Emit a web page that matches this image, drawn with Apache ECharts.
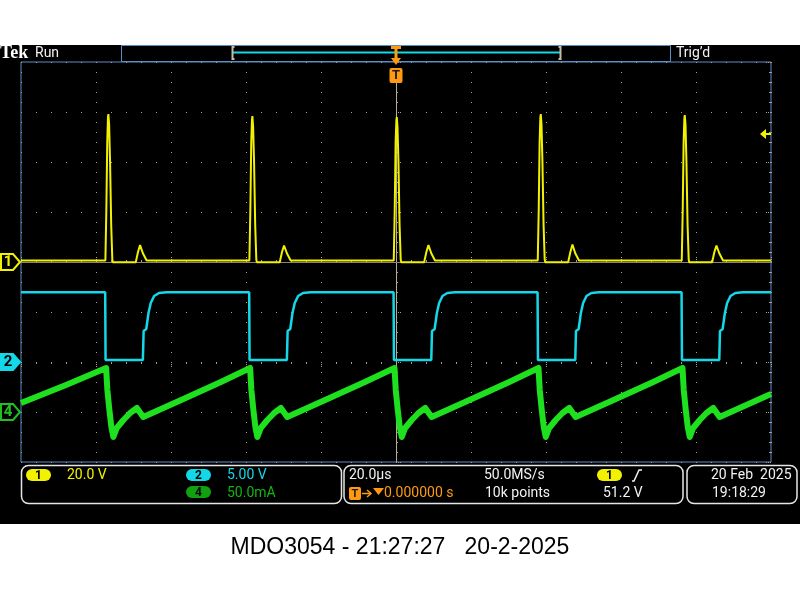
<!DOCTYPE html>
<html><head><meta charset="utf-8">
<script src="https://cdn.jsdelivr.net/npm/echarts@6/dist/echarts.min.js"></script>
<style>html,body{margin:0;padding:0;background:#fff}#c{width:800px;height:600px}</style>
</head><body><div id="c"></div>
<script>
// Time axis in µs (20 µs/div), channel values in their own units
const timeRange = [-100, 100];
// CH1 (V) 20.0 V/div
const ch1Data = [
 [-100,0.6],
 [-77.5,0.6],[-77.25,20],[-77.0,48],[-76.8,58],[-76.7,59.2],[-76.5,55],[-76.25,40],[-75.95,15],[-75.65,1],[-75.5,-0.1],[-69.4,-0.1],[-68.8,4],[-68.25,6.8],[-67.5,3.5],[-66.5,0.6],
 [-39.1,0.6],[-38.85,20],[-38.6,48],[-38.4,57],[-38.3,58.4],[-38.1,54],[-37.85,40],[-37.55,15],[-37.25,1],[-37.1,-0.1],[-31.0,-0.1],[-30.4,4],[-29.85,6.6],[-29.1,3.5],[-28.1,0.6],
 [-0.6,0.6],[-0.35,20],[-0.1,48],[0.1,56.5],[0.2,58.0],[0.4,54],[0.65,40],[0.95,15],[1.25,1],[1.4,-0.1],[7.5,-0.1],[8.1,4],[8.65,6.8],[9.4,3.5],[10.4,0.6],
 [37.8,0.6],[38.05,20],[38.3,48],[38.5,58],[38.6,59.2],[38.8,55],[39.05,40],[39.35,15],[39.65,1],[39.8,-0.1],[45.9,-0.1],[46.5,4],[47.05,7.0],[47.8,3.5],[48.8,0.6],
 [76.2,0.6],[76.45,20],[76.7,48],[76.9,57.5],[77.0,58.8],[77.2,55],[77.45,40],[77.75,15],[78.05,1],[78.2,-0.1],[84.3,-0.1],[84.9,4],[85.45,6.6],[86.2,3.5],[87.2,0.6],
 [100,0.6]
];
// CH2 (V) 5.00 V/div
const ch2Data = [
 [-100,6.97],
 [-77.55,6.97],[-77.45,0.2],[-67.5,0.2],[-67.3,3.1],[-66.6,3.3],[-66.0,4.9],[-65.4,5.9],[-64.5,6.6],[-63.2,6.9],[-61.2,6.97],
 [-39.15,6.97],[-39.05,0.2],[-29.1,0.2],[-28.9,3.1],[-28.2,3.3],[-27.6,4.9],[-27.0,5.9],[-26.1,6.6],[-24.8,6.9],[-22.8,6.97],
 [-0.65,6.97],[-0.55,0.2],[9.4,0.2],[9.6,3.1],[10.3,3.3],[10.9,4.9],[11.5,5.9],[12.4,6.6],[13.7,6.9],[15.7,6.97],
 [37.75,6.97],[37.85,0.2],[47.8,0.2],[48.0,3.1],[48.7,3.3],[49.3,4.9],[49.9,5.9],[50.8,6.6],[52.1,6.9],[54.1,6.97],
 [76.15,6.97],[76.25,0.2],[86.2,0.2],[86.4,3.1],[87.1,3.3],[87.7,4.9],[88.3,5.9],[89.2,6.6],[90.5,6.9],[92.5,6.97],
 [100,6.97]
];
// CH4 (mA) 50.0 mA/div
const ch4Data = [
 [-100,9],[-88,27],
 [-77.3,44],[-76.97,22],[-76.43,2],[-75.9,-15],[-75.37,-25],[-74.46,-16],[-72.7,-8],[-70.9,-1],[-69.1,4],[-67.4,-5],[-56.7,13],[-46.7,30],
 [-38.9,44],[-38.57,22],[-38.03,2],[-37.5,-15],[-36.97,-25],[-36.06,-16],[-34.3,-8],[-32.5,-1],[-30.7,4],[-29.0,-5],[-18.3,13],[-8.3,30],
 [-0.4,44],[-0.07,22],[0.47,2],[1.0,-15],[1.53,-25],[2.44,-16],[4.2,-8],[6.0,-1],[7.8,4],[9.5,-5],[20.2,13],[30.2,30],
 [38.0,44],[38.33,22],[38.87,2],[39.4,-15],[39.93,-25],[40.84,-16],[42.6,-8],[44.4,-1],[46.2,4],[47.9,-5],[58.6,13],[68.6,30],
 [76.4,44],[76.73,22],[77.27,2],[77.8,-15],[78.33,-25],[79.24,-16],[81.0,-8],[82.8,-1],[84.6,4],[86.3,-5],[97,13],[100,18]
];
const ch1Range = [-80, 80];   // ground at centre
const ch2Range = [-10, 30];   // ground at -2 div
const ch4Range = [-50, 350];  // ground at -3 div
const triggerLevel = 51.2;
const channelLabels = ['1', '2', '4'];
const infoTexts = {
  ch1Scale: '20.0 V', ch2Scale: '5.00 V', ch4Scale: '50.0mA',
  timebase: '20.0µs', sampleRate: '50.0MS/s', delay: '0.000000 s', record: '10k points',
  trigLevel: '51.2 V', date: '20 Feb  2025', time: '19:18:29',
  caption: 'MDO3054 - 21:27:27   20-2-2025'
};

const DOT = '#a8a08c', BLUE = '#5b8ec4';
const YEL = '#f2f200', CYA = '#14d8e8', GRN = '#1ee01e', ORG = '#ff9a10', WHITE = '#f2f2f2';
const FONT = 'Roboto';

const chart = echarts.init(document.getElementById('c'), null, {width: 800, height: 600});

function edgeX(pos, split) {
  return {type: 'value', min: timeRange[0], max: timeRange[1], interval: 20, position: pos,
    axisLine: {show: false}, axisLabel: {show: false},
    axisTick: {show: true, inside: true, length: 5, lineStyle: {color: DOT, type: [1, 1]}},
    minorTick: {show: true, splitNumber: 5, length: 2, lineStyle: {color: DOT}},
    splitLine: {show: split, lineStyle: {color: DOT, width: 1, type: [1, 9]}}};
}
const option = {
  animation: false,
  backgroundColor: '#000',
  grid: {left: 21, top: 62, width: 750, height: 400, show: true, borderColor: BLUE, borderWidth: 1},
  xAxis: [edgeX('bottom', true), edgeX('top', false)],
  yAxis: [
    {type: 'value', min: ch1Range[0], max: ch1Range[1], interval: 20, position: 'left',
     axisLine: {show: false}, axisLabel: {show: false},
     axisTick: {show: true, inside: true, length: 5, lineStyle: {color: DOT, type: [1, 1]}},
     minorTick: {show: true, splitNumber: 5, length: 2, lineStyle: {color: DOT}},
     splitLine: {show: true, lineStyle: {color: DOT, width: 1, type: [1, 14]}}},
    {type: 'value', min: ch2Range[0], max: ch2Range[1], show: false},
    {type: 'value', min: ch4Range[0], max: ch4Range[1], show: false},
    {type: 'value', min: -4, max: 4, interval: 1, position: 'right',
     axisLine: {show: false}, axisLabel: {show: false},
     axisTick: {show: true, inside: true, length: 5, lineStyle: {color: DOT, type: [1, 1]}},
     minorTick: {show: true, splitNumber: 5, length: 2, lineStyle: {color: DOT}},
     splitLine: {show: false}}
  ],
  series: [
    {type: 'line', name: 'CH4', data: ch4Data, yAxisIndex: 2, showSymbol: false, z: 3,
     lineStyle: {color: GRN, width: 6, join: 'round'}},
    {type: 'line', name: 'CH2', data: ch2Data, yAxisIndex: 1, showSymbol: false, z: 4,
     lineStyle: {color: CYA, width: 2.5}},
    {type: 'line', name: 'CH1', data: ch1Data, yAxisIndex: 0, showSymbol: false, z: 5,
     lineStyle: {color: YEL, width: 2}}
  ]
};
chart.setOption(option);

// ---- overlays (scope chrome) ----
const cx = chart.convertToPixel({xAxisIndex: 0}, 0);
const cy = chart.convertToPixel({yAxisIndex: 0}, 0);
const g1 = chart.convertToPixel({yAxisIndex: 0}, 0);
const g2 = chart.convertToPixel({yAxisIndex: 1}, 0);
const g4 = chart.convertToPixel({yAxisIndex: 2}, 0);
const tl = chart.convertToPixel({yAxisIndex: 0}, triggerLevel);
const xL = chart.convertToPixel({xAxisIndex: 0}, timeRange[0]);
const xR = chart.convertToPixel({xAxisIndex: 0}, timeRange[1]);
const yB = chart.convertToPixel({yAxisIndex: 0}, ch1Range[0]);

function txt(x, y, s, color, size) {
  return {type: 'text', x: x, y: y, z: 60,
    style: {text: s, fill: color, font: (size || 14) + 'px ' + FONT,
      align: 'left', verticalAlign: 'middle', textAlign: 'left', textVerticalAlign: 'middle'}};
}
function ctxt(x, y, s, color, font) {
  return {type: 'text', x: x, y: y, z: 60,
    style: {text: s, fill: color, font: font, align: 'center', verticalAlign: 'middle', textAlign: 'center', textVerticalAlign: 'middle'}};
}
function badge(x, y, label, fill) {
  return [
    {type: 'rect', z: 50, shape: {x: x, y: y, width: 25, height: 12, r: 6}, style: {fill: fill}},
    ctxt(x + 12.5, y + 6.5, label, '#000', 'bold 12px ' + FONT)
  ];
}
function chMarker(py, color, filled, label) {
  return [
    {type: 'polygon', z: 50, shape: {points: [[1, py - 8], [13, py - 8], [20, py], [13, py + 8], [1, py + 8]]},
     style: {fill: filled ? color : '#000', stroke: color, lineWidth: 2}},
    ctxt(8, py + 0.5, label, filled ? '#000' : color, 'bold 15px ' + FONT)
  ];
}
function box(x, w) {
  return {type: 'rect', z: 50, shape: {x: x, y: 465.5, width: w, height: 38, r: 7},
    style: {fill: null, stroke: '#e6e6e6', lineWidth: 1.5}};
}

let els = [
  {type: 'rect', z: 1, shape: {x: 0, y: 0, width: 800, height: 45}, style: {fill: '#fff'}},
  {type: 'rect', z: 1, shape: {x: 0, y: 524, width: 800, height: 76}, style: {fill: '#fff'}},
  ctxt(400, 548, infoTexts.caption, '#000', '23px "Liberation Sans"'),
  // header
  {type: 'text', x: 0, y: 53.5, z: 60, style: {text: 'Tek', fill: '#fff', font: 'bold 18px "Liberation Serif"',
    align: 'left', verticalAlign: 'middle', textAlign: 'left', textVerticalAlign: 'middle'}},
  txt(35, 53, 'Run', WHITE, 14),
  txt(676, 53, 'Trig\u2019d', WHITE, 14),
  {type: 'rect', z: 50, shape: {x: 121.5, y: 45.5, width: 549, height: 16}, style: {fill: null, stroke: BLUE, lineWidth: 1}},
  {type: 'line', z: 50, shape: {x1: 233, y1: 52.5, x2: 560, y2: 52.5}, style: {stroke: CYA, lineWidth: 2}},
  {type: 'polyline', z: 51, shape: {points: [[234.5, 47], [232.5, 47], [232.5, 59], [234.5, 59]]}, style: {stroke: '#c8bca0', lineWidth: 2, fill: null}},
  {type: 'polyline', z: 51, shape: {points: [[558.5, 47], [560.5, 47], [560.5, 59], [558.5, 59]]}, style: {stroke: '#c8bca0', lineWidth: 2, fill: null}},
  // trigger position markers
  {type: 'rect', z: 52, shape: {x: cx - 5, y: 46, width: 10, height: 3}, style: {fill: ORG}},
  {type: 'rect', z: 52, shape: {x: cx - 1.5, y: 48, width: 3, height: 10}, style: {fill: ORG}},
  {type: 'polygon', z: 52, shape: {points: [[cx - 5, 58], [cx + 5, 58], [cx, 65]]}, style: {fill: ORG}},
  {type: 'rect', z: 52, shape: {x: cx - 6.5, y: 68, width: 13, height: 15, r: 2}, style: {fill: ORG}},
  ctxt(cx, 76, 'T', '#1a1a1a', 'bold 13px ' + FONT),
  // centre cross
  {type: 'line', z: 2, shape: {x1: cx + 0.5, y1: 83, x2: cx + 0.5, y2: yB}, style: {stroke: '#b4ac98', lineWidth: 1}},
  {type: 'line', z: 2, shape: {x1: xL, y1: cy + 0.5, x2: xR, y2: cy + 0.5}, style: {stroke: '#8c8676', lineWidth: 1}},
  // trigger level arrow
  {type: 'polygon', z: 52, shape: {points: [[xR - 11, tl], [xR - 5, tl - 5], [xR - 5, tl + 5]]}, style: {fill: YEL}},
  {type: 'rect', z: 52, shape: {x: xR - 6, y: tl - 1, width: 6, height: 2}, style: {fill: YEL}},
  // bottom info
  box(21.5, 320), box(344, 339), box(687, 110),
  txt(67, 475.5, infoTexts.ch1Scale, YEL),
  txt(227, 475.5, infoTexts.ch2Scale, CYA),
  txt(227, 493.5, infoTexts.ch4Scale, '#14b414'),
  txt(349, 475.5, infoTexts.timebase, WHITE),
  {type: 'rect', z: 52, shape: {x: 349, y: 487, width: 12, height: 13, r: 2}, style: {fill: ORG}},
  ctxt(355, 494, 'T', '#1a1a1a', 'bold 11px ' + FONT),
  {type: 'line', z: 52, shape: {x1: 362, y1: 493.5, x2: 370, y2: 493.5}, style: {stroke: ORG, lineWidth: 1.5}},
  {type: 'polyline', z: 52, shape: {points: [[367, 490], [371, 493.5], [367, 497]]}, style: {stroke: ORG, lineWidth: 1.5, fill: null}},
  {type: 'polygon', z: 52, shape: {points: [[373, 488], [384, 488], [378.5, 495]]}, style: {fill: ORG}},
  txt(384, 493.5, infoTexts.delay, ORG),
  txt(484, 475.5, infoTexts.sampleRate, WHITE),
  txt(485, 493.5, infoTexts.record, WHITE),
  {type: 'polyline', z: 52, shape: {points: [[632, 481], [634, 481], [639, 470], [642, 470]]}, style: {stroke: WHITE, lineWidth: 1.5, fill: null}},
  txt(603, 493.5, infoTexts.trigLevel, WHITE),
  txt(711, 475.5, infoTexts.date, WHITE),
  txt(712, 493.5, infoTexts.time, WHITE)
];
els = els.concat(badge(26, 469, '1', YEL), badge(186, 469, '2', CYA), badge(186, 486, '4', '#10a010'), badge(597, 469, '1', YEL));
els = els.concat(chMarker(g1, YEL, false, channelLabels[0]), chMarker(g2, CYA, true, channelLabels[1]), chMarker(g4, '#20c020', false, channelLabels[2]));
chart.setOption({graphic: {elements: els}});
</script>
</body></html>
